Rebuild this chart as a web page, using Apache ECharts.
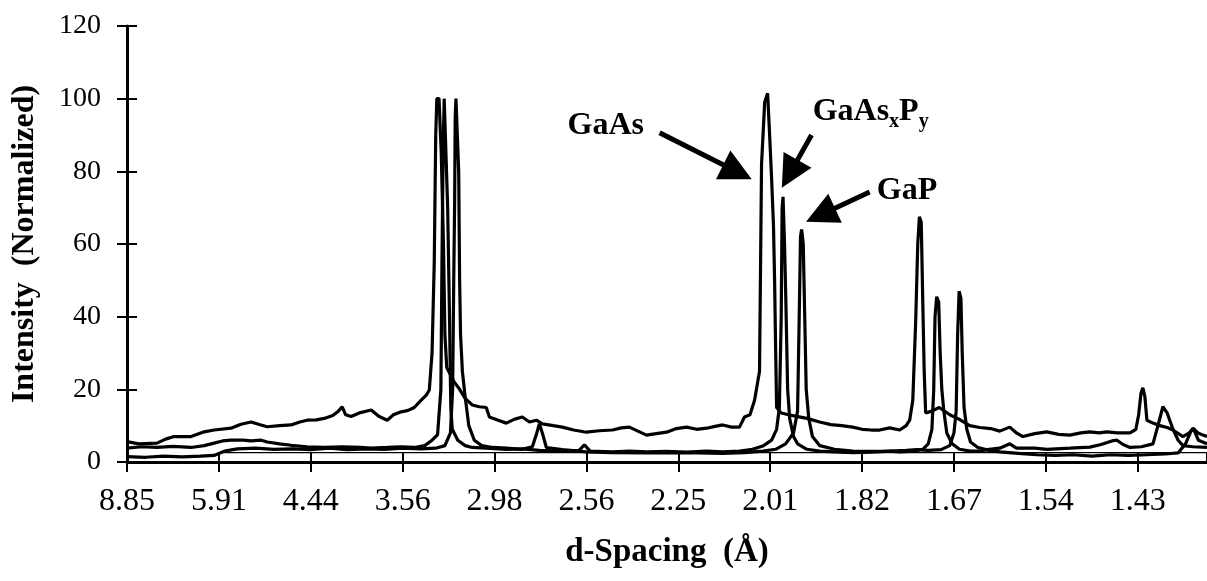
<!DOCTYPE html>
<html>
<head>
<meta charset="utf-8">
<script src="https://cdn.jsdelivr.net/npm/echarts@6/dist/echarts.min.js"></script>
<style>
  html, body { margin: 0; background: #fff; }
  #chart { width: 1207px; height: 581px; }
</style>
</head>
<body>
<div id="chart"></div>
<script>
// x values are the scan angle (2-theta, degrees); the axis is labelled in d-spacing
const dSpacingLabels = ['8.85', '5.91', '4.44', '3.56', '2.98', '2.56', '2.25', '2.01', '1.82', '1.67', '1.54', '1.43']
const yTicks = [0, 20, 40, 60, 80, 100, 120]

// top trace, broad amorphous background
const scanGaAs = [
  [10.00, 5.6], [10.65, 5.0], [11.63, 5.2], [12.1, 6.3], [12.56, 7.0], [13.49, 7.0], [14.2, 8.3], [14.74, 8.8],
  [15.66, 9.3], [16.2, 10.4], [16.75, 11.0], [17.2, 10.3], [17.63, 9.7], [18.3, 10.0], [18.93, 10.2], [19.4, 11.0],
  [19.80, 11.5], [20.3, 11.6], [20.73, 12.0], [21.2, 12.8], [21.5, 14.0], [21.71, 15.2], [21.9, 13.0], [22.2, 12.5],
  [22.7, 13.6], [23.29, 14.3], [23.7, 12.6], [24.16, 11.5], [24.5, 13.0], [24.92, 13.8], [25.3, 14.2], [25.63, 15.0],
  [26.01, 17.0], [26.3, 18.5], [26.45, 19.8], [26.6, 30], [26.72, 55], [26.8, 90], [26.86, 100], [26.98, 100],
  [27.1, 85], [27.22, 60], [27.3, 35], [27.4, 26], [27.8, 22], [28.1, 20], [28.4, 17.5], [28.79, 15.7],
  [29.17, 15.2], [29.55, 15.0], [29.72, 12.4], [30.2, 11.5], [30.64, 10.7], [31.1, 11.8], [31.51, 12.4], [31.9, 11.0],
  [32.28, 11.5], [32.6, 10.5], [33.2, 10.0], [33.69, 9.6], [34.3, 8.8], [35.0, 8.2], [35.7, 8.6], [36.42, 8.8],
  [36.9, 9.4], [37.34, 9.6], [37.8, 8.5], [38.27, 7.4], [38.8, 7.8], [39.36, 8.2], [39.9, 9.2], [40.45, 9.6],
  [41.0, 9.0], [41.54, 9.3], [42.0, 9.8], [42.41, 10.2], [42.9, 9.6], [43.33, 9.6], [43.6, 12.4], [43.9, 13.0],
  [44.15, 17], [44.42, 25], [44.53, 82], [44.7, 99], [44.86, 101.5], [44.97, 90], [45.08, 77.6], [45.18, 65],
  [45.24, 50], [45.3, 30], [45.35, 15], [45.6, 13.5], [46.0, 13.0], [46.5, 12.5], [47.0, 12.0], [47.69, 11.0],
  [48.3, 10.3], [48.9, 10.0], [49.49, 9.6], [50.0, 9.0], [50.5, 8.8], [50.96, 8.8], [51.5, 9.4], [52.05, 8.8],
  [52.4, 10.0], [52.59, 11.5], [52.76, 17], [52.92, 39], [53.03, 60], [53.12, 67.5], [53.22, 66], [53.3, 45],
  [53.38, 25], [53.46, 13.5], [53.79, 14], [54.2, 15], [54.77, 13], [55.2, 12], [55.86, 10], [56.41, 9.5],
  [57.0, 9.2], [57.49, 8.5], [58.04, 9.6], [58.4, 8.0], [58.75, 7.0], [59.4, 7.8], [60.05, 8.3], [60.7, 7.6],
  [61.31, 7.4], [61.9, 8.0], [62.4, 8.3], [62.9, 8.0], [63.32, 8.3], [63.9, 8.0], [64.58, 8.0], [64.9, 9.0],
  [65.05, 13], [65.18, 19], [65.28, 20.4], [65.39, 18], [65.5, 11.5], [65.83, 10.7], [66.2, 10.0], [66.6, 9.5],
  [66.92, 8.8], [67.46, 7.0], [67.8, 8.0], [68.01, 9.3], [68.28, 8.0], [68.55, 7.4], [68.77, 7.0]
]

const scanGaAsP = [
  [10.00, 3.8], [10.8, 4.2], [11.63, 4.0], [12.5, 4.3], [13.49, 4.0], [14.2, 4.5], [14.74, 5.2], [15.2, 5.8],
  [15.66, 6.0], [16.3, 6.0], [16.75, 5.8], [17.3, 6.0], [17.63, 5.5], [18.3, 5.0], [18.93, 4.6], [19.8, 4.2],
  [20.73, 4.0], [21.71, 4.2], [22.7, 4.0], [23.29, 3.8], [24.16, 4.0], [24.92, 4.2], [25.63, 4.0], [26.2, 4.5],
  [26.6, 6.0], [26.9, 7.5], [27.08, 20], [27.14, 55], [27.2, 85], [27.26, 100], [27.36, 100], [27.45, 70],
  [27.55, 40], [27.62, 15], [27.7, 9], [28.0, 6], [28.4, 4.5], [28.79, 4.0], [29.55, 3.8], [30.64, 3.5],
  [31.51, 3.6], [32.44, 3.2], [33.69, 3.0], [34.6, 3.2], [34.89, 4.7], [35.2, 3.0], [36.42, 2.8], [37.34, 3.0],
  [38.27, 2.8], [39.36, 2.9], [40.45, 2.7], [41.54, 3.0], [42.41, 2.8], [43.33, 3.0], [44.04, 3.5], [44.64, 4.5],
  [45.08, 6], [45.35, 9], [45.5, 15], [45.6, 40], [45.65, 70], [45.7, 73], [45.78, 60], [45.85, 45],
  [45.95, 20], [46.06, 12], [46.27, 7], [46.49, 5], [47.0, 3.5], [47.69, 3.0], [48.5, 2.8], [49.49, 2.6],
  [50.5, 2.7], [51.5, 3.0], [52.05, 2.8], [52.8, 3.0], [53.3, 3.5], [53.6, 5], [53.8, 9], [53.9, 20],
  [53.97, 40], [54.06, 45.5], [54.17, 44], [54.25, 30], [54.34, 20], [54.45, 14], [54.61, 8], [54.9, 5],
  [55.3, 3.5], [55.9, 3.0], [56.41, 3.0], [56.8, 3.4], [57.49, 3.8], [58.04, 5.0], [58.4, 3.8], [59.4, 3.8],
  [60.05, 3.5], [61.31, 3.8], [62.4, 4.1], [63.0, 4.8], [63.6, 5.8], [63.87, 6.0], [64.2, 4.8], [64.58, 4.0],
  [65.2, 4.2], [65.83, 5.0], [66.1, 10], [66.37, 15.2], [66.6, 13.5], [66.92, 9], [67.2, 6], [67.46, 4.5],
  [68.0, 4.2], [68.77, 4.0]
]

const scanGaP = [
  [10.00, 1.5], [11.0, 1.3], [12.0, 1.6], [13.0, 1.4], [14.0, 1.6], [14.74, 1.8], [15.3, 3.0], [16.0, 3.6],
  [17.0, 3.8], [18.0, 3.5], [19.0, 3.6], [20.0, 3.4], [21.0, 3.8], [22.0, 3.4], [23.0, 3.6], [24.0, 3.5],
  [25.0, 3.8], [26.0, 3.6], [26.8, 3.8], [27.3, 4.5], [27.6, 8], [27.72, 20], [27.78, 50], [27.83, 72],
  [27.86, 95], [27.9, 100], [28.0, 100], [28.05, 80], [28.1, 50], [28.15, 35], [28.25, 25], [28.4, 18],
  [28.6, 10], [28.9, 6], [29.3, 4.5], [29.9, 4.0], [30.64, 3.8], [31.5, 3.5], [32.06, 4.2], [32.3, 8],
  [32.44, 10.5], [32.6, 8], [32.82, 4.0], [33.69, 3.4], [35.0, 2.8], [36.4, 2.6], [38.3, 2.5], [40.45, 2.6],
  [42.41, 2.4], [43.6, 2.6], [44.6, 3.0], [45.3, 3.5], [45.84, 5], [46.27, 8], [46.49, 14], [46.58, 40],
  [46.65, 62], [46.71, 64], [46.8, 60], [46.88, 40], [46.96, 20], [47.1, 12], [47.3, 7], [47.7, 4.5],
  [48.5, 3.5], [49.5, 3.0], [50.5, 2.9], [51.5, 3.0], [52.4, 3.2], [53.0, 3.4], [53.6, 3.2], [54.3, 3.4],
  [54.77, 4.5], [55.0, 8], [55.12, 14], [55.2, 35], [55.28, 47], [55.38, 45], [55.45, 30], [55.55, 15],
  [55.7, 9], [55.9, 5.5], [56.3, 4], [56.9, 3.2], [57.5, 2.8], [58.5, 2.4], [59.5, 2.0], [60.5, 1.8],
  [61.5, 2.0], [62.5, 1.6], [63.5, 2.0], [64.5, 1.8], [65.5, 2.0], [66.5, 2.2], [67.2, 2.5], [67.6, 5.0],
  [67.9, 8.5], [68.05, 9.0], [68.3, 6.0], [68.77, 5.0]
]

// thin straight reference line under the scans
const refLine = [[15.0, 2.6], [68.77, 2.6]]

// annotations: label anchor (left, middle) and arrow [from, to] in data units
const noteLabels = ['GaAs', 'GaAsxPy', 'GaP']
const noteAnchors = [[33.97, 92.5], [47.31, 96.3], [50.8, 74.6]]
const noteArrows = [
  [[38.98, 90.6], [43.22, 79.8]],
  [[47.25, 90.0], [46.06, 79.3]],
  [[50.41, 74.3], [47.74, 68.0]]
]

const FONT = '"Liberation Serif", "Times New Roman", Times, serif'
const X_MIN = 10, X_MAX = 68.77

function dLabel(v) {
  const i = (v - X_MIN) / 5
  if (Math.abs(i - Math.round(i)) > 1e-6) return ''
  return dSpacingLabels[Math.round(i)] || ''
}

const chart = echarts.init(document.getElementById('chart'))

const scanSeries = (name, data, width) => ({
  name,
  type: 'line',
  data,
  showSymbol: false,
  symbol: 'none',
  silent: true,
  lineStyle: {color: '#000', width},
  z: 3
})

chart.setOption({
  animation: false,
  backgroundColor: '#fff',
  grid: {left: 127, right: 0, top: 26, bottom: 119},
  xAxis: [
    {
      type: 'value',
      min: X_MIN,
      max: X_MAX,
      interval: 5,
      axisLine: {lineStyle: {color: '#000', width: 3}},
      axisTick: {length: 10, lineStyle: {color: '#000', width: 2}},
      axisLabel: {
        color: '#000', fontFamily: FONT, fontSize: 32, margin: 24,
        showMaxLabel: false, formatter: dLabel
      },
      splitLine: {show: false},
      name: 'd-Spacing  (Å)',
      nameLocation: 'middle',
      nameGap: 74,
      nameTextStyle: {color: '#000', fontFamily: FONT, fontSize: 33, fontWeight: 'bold'}
    },
    {
      type: 'value',
      min: X_MIN,
      max: X_MAX,
      interval: 5,
      position: 'bottom',
      axisLine: {show: false},
      axisTick: {inside: true, length: 9, lineStyle: {color: '#000', width: 2}},
      axisLabel: {show: false},
      splitLine: {show: false}
    }
  ],
  yAxis: [
    {
      type: 'value',
      min: 0,
      max: yTicks[yTicks.length - 1],
      interval: 20,
      axisLine: {show: true, lineStyle: {color: '#000', width: 3}},
      axisTick: {show: true, length: 10, lineStyle: {color: '#000', width: 2}},
      axisLabel: {color: '#000', fontFamily: FONT, fontSize: 28, margin: 26},
      splitLine: {show: false},
      name: 'Intensity  (Normalized)',
      nameLocation: 'middle',
      nameGap: 86,
      nameTextStyle: {color: '#000', fontFamily: FONT, fontSize: 32, fontWeight: 'bold'}
    },
    {
      type: 'value',
      min: 0,
      max: yTicks[yTicks.length - 1],
      interval: 20,
      position: 'left',
      axisLine: {show: false},
      axisTick: {show: true, inside: true, length: 10, lineStyle: {color: '#000', width: 2}},
      axisLabel: {show: false},
      splitLine: {show: false}
    }
  ],
  series: [
    scanSeries('GaAs', scanGaAs, 3.2),
    scanSeries('GaAsxPy', scanGaAsP, 3.2),
    scanSeries('GaP', scanGaP, 3.2),
    scanSeries('ref', refLine, 1.2),
    {
      name: 'notes',
      type: 'scatter',
      symbolSize: 0,
      silent: true,
      itemStyle: {opacity: 1, color: '#000'},
      data: noteLabels.map((n, i) => ({name: n, value: noteAnchors[i]})),
      label: {
        show: true,
        position: 'right',
        distance: 0,
        color: '#000',
        opacity: 1,
        formatter: p => p.name === 'GaAsxPy' ? '{b|GaAs}{s|x}{b|P}{s|y}' : '{b|' + p.name + '}',
        rich: {
          b: {fontFamily: FONT, fontSize: 32, fontWeight: 'bold', color: '#000', lineHeight: 40},
          s: {fontFamily: FONT, fontSize: 20, fontWeight: 'bold', color: '#000', verticalAlign: 'bottom', lineHeight: 40}
        }
      },
      markLine: {
        silent: true,
        symbol: ['none', 'triangle'],
        symbolSize: 32,
        label: {show: false},
        itemStyle: {color: '#000', opacity: 1},
        lineStyle: {color: '#000', width: 5, type: 'solid', opacity: 1},
        data: noteArrows.map(a => [{coord: a[0]}, {coord: a[1]}])
      },
      z: 5
    }
  ]
})
</script>
</body>
</html>
